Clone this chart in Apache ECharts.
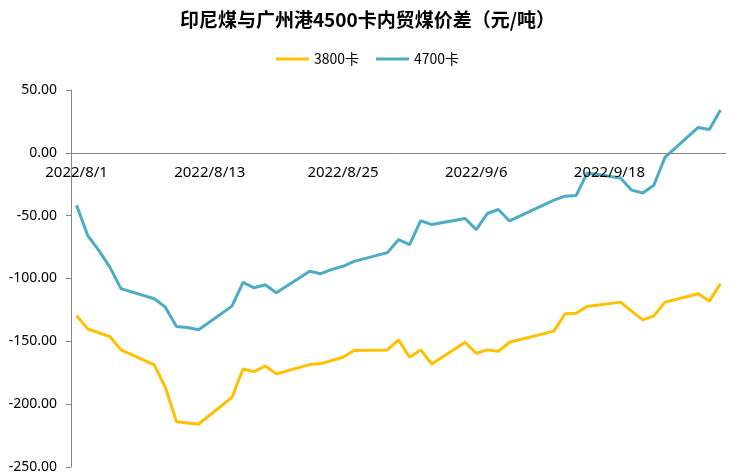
<!DOCTYPE html>
<html lang="zh-CN">
<head>
    <meta charset="UTF-8">
    <title>印尼煤与广州港4500卡内贸煤价差</title>
    <style>
        html, body { margin: 0; padding: 0; background: #fff; }
        #main { width: 735px; height: 475px; }
    </style>
</head>
<body>
    <div id="main"></div>
    <script src="https://cdn.jsdelivr.net/npm/echarts@6/dist/echarts.min.js"></script>
    <script>
        // 日期（含周末、节假日，无数据处为 null）
        const dates = [
            '2022/8/1', '2022/8/2', '2022/8/3', '2022/8/4', '2022/8/5', '2022/8/6', '2022/8/7',
            '2022/8/8', '2022/8/9', '2022/8/10', '2022/8/11', '2022/8/12', '2022/8/13', '2022/8/14',
            '2022/8/15', '2022/8/16', '2022/8/17', '2022/8/18', '2022/8/19', '2022/8/20', '2022/8/21',
            '2022/8/22', '2022/8/23', '2022/8/24', '2022/8/25', '2022/8/26', '2022/8/27', '2022/8/28',
            '2022/8/29', '2022/8/30', '2022/8/31', '2022/9/1', '2022/9/2', '2022/9/3', '2022/9/4',
            '2022/9/5', '2022/9/6', '2022/9/7', '2022/9/8', '2022/9/9', '2022/9/10', '2022/9/11',
            '2022/9/12', '2022/9/13', '2022/9/14', '2022/9/15', '2022/9/16', '2022/9/17', '2022/9/18',
            '2022/9/19', '2022/9/20', '2022/9/21', '2022/9/22', '2022/9/23', '2022/9/24', '2022/9/25',
            '2022/9/26', '2022/9/27', '2022/9/28'
        ];

        // 3800卡
        const cal3800 = [
            -129.4, -140.1, -143.2, -146.2, -156.8, null, null,
            -168.7, -186.6, -214.0, -214.9, -215.8, null, null,
            -194.6, -172.0, -174.1, -169.6, -175.9, null, null,
            -168.5, -167.7, -165.3, -162.7, -157.3, null, null,
            -156.8, -148.8, -162.7, -156.8, -168.0, null, null,
            -150.7, -159.5, -156.8, -157.9, -150.7, null, null,
            null, -141.9, -128.1, -127.6, -122.2, null, null,
            -118.8, -126.0, -132.9, -129.7, -118.8, null, null,
            -112.1, -118.0, -104.2
        ];

        // 4700卡
        const cal4700 = [
            -41.7, -65.6, -77.6, -90.9, -108.1, null, null,
            -116.1, -122.8, -138.2, -139.0, -140.8, null, null,
            -122.0, -103.1, -107.4, -105.0, -111.3, null, null,
            -94.3, -96.2, -92.7, -90.3, -86.4, null, null,
            -79.4, -69.1, -73.1, -53.9, -57.1, null, null,
            -52.3, -61.1, -48.3, -45.1, -54.2, null, null,
            null, -37.7, -34.5, -34.0, -16.0, null, null,
            -20.0, -29.7, -32.0, -25.8, -3.7, null, null,
            20.2, 18.6, 34.0
        ];

        const myChart = echarts.init(document.getElementById('main'));
        const axisFont = 'Noto Sans, "Noto Sans CJK SC", sans-serif';

        // 绘图区：y 轴 -250 ~ 50，x 轴放在 0 的位置
        const gridTop = 90, gridBottom = 8, chartH = 475;
        const yMin = -250, yMax = 50;
        const plotH = chartH - gridTop - gridBottom;
        const zeroOffset = -plotH * (0 - yMin) / (yMax - yMin);

        myChart.setOption({
            animation: false,
            color: ['#FFC000', '#4BACC6'],
            title: {
                text: '印尼煤与广州港4500卡内贸煤价差（元/吨）',
                left: 'center',
                top: 5,
                textStyle: {
                    fontFamily: '"Noto Sans CJK SC", sans-serif',
                    fontWeight: 'bold',
                    fontSize: 19,
                    color: '#000'
                }
            },
            legend: {
                top: 47,
                left: 'center',
                icon: 'rect',
                itemWidth: 33,
                itemHeight: 3,
                itemGap: 17,
                textStyle: {
                    fontFamily: '"Noto Sans CJK SC", sans-serif',
                    fontSize: 14,
                    color: '#000'
                },
                data: ['3800卡', '4700卡']
            },
            grid: {
                left: 71,
                right: 9,
                top: gridTop,
                bottom: gridBottom,
                containLabel: false
            },
            xAxis: {
                type: 'category',
                data: dates,
                boundaryGap: true,
                position: 'bottom',
                offset: zeroOffset,
                z: 5,
                axisLine: {
                    onZero: false,
                    lineStyle: { color: '#868686', width: 1 }
                },
                axisTick: {
                    interval: 11,
                    length: 5,
                    lineStyle: { color: '#868686' }
                },
                axisLabel: {
                    interval: 11,
                    margin: 12,
                    fontFamily: axisFont,
                    fontSize: 15,
                    color: '#000'
                },
                splitLine: { show: false }
            },
            yAxis: {
                type: 'value',
                min: yMin,
                max: yMax,
                interval: 50,
                axisLine: {
                    show: true,
                    lineStyle: { color: '#868686', width: 1 }
                },
                axisTick: {
                    show: true,
                    length: 5,
                    lineStyle: { color: '#868686' }
                },
                axisLabel: {
                    margin: 14,
                    fontFamily: axisFont,
                    fontSize: 14,
                    color: '#000',
                    formatter: function (v) { return v.toFixed(2); }
                },
                splitLine: { show: false }
            },
            series: [
                {
                    name: '3800卡',
                    type: 'line',
                    data: cal3800,
                    connectNulls: true,
                    showSymbol: false,
                    symbol: 'none',
                    lineStyle: { width: 3 }
                },
                {
                    name: '4700卡',
                    type: 'line',
                    data: cal4700,
                    connectNulls: true,
                    showSymbol: false,
                    symbol: 'none',
                    lineStyle: { width: 3 }
                }
            ]
        });
    </script>
</body>
</html>
